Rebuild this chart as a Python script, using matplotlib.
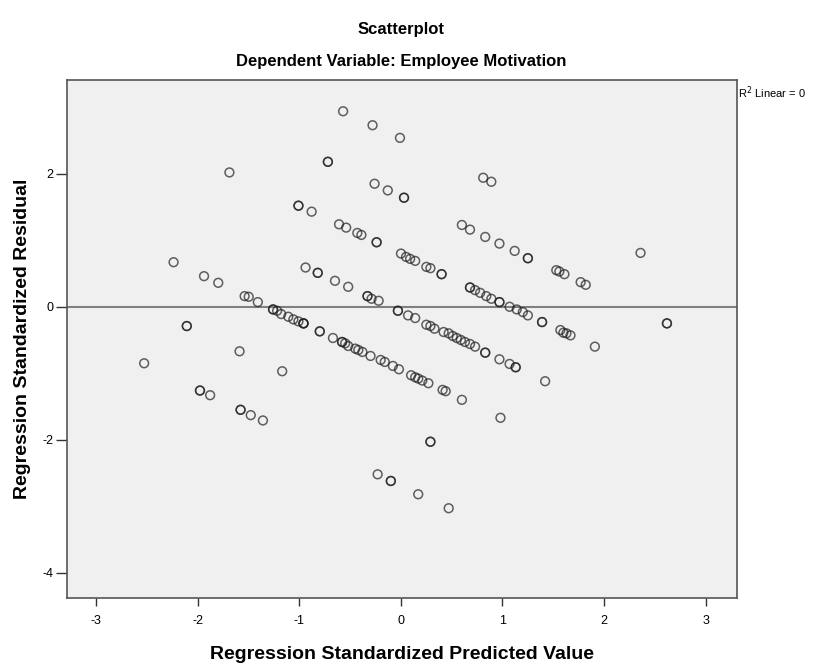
import matplotlib
matplotlib.use("Agg")
import matplotlib.pyplot as plt

plt.rcParams['font.family'] = ['Liberation Sans', 'DejaVu Sans']
plt.rcParams['axes.unicode_minus'] = False

# standardized predicted values (x) and standardized residuals (y)
pred = [-1.69, -1.01, -1.01, -0.88, -2.24, -1.94, -1.80, -1.54, -1.50, -1.41,
        -1.26, -1.26, -1.22, -1.18, -1.11, -1.06, -1.01, -0.96, -0.96, -0.96,
        -0.57, -0.28, -0.01, -0.72, -0.72, -0.26, -0.13, 0.03, 0.03, 0.81, 0.89,
        -0.61, -0.54, -0.43, -0.39, -0.24, -0.24,
        0.00, 0.05, 0.09, 0.14, 0.25, 0.29, 0.40, 0.40,
        0.60, 0.68, 0.83, 0.97, 1.12, 1.25, 1.25, 1.53, 1.56, 1.61, 1.77, 1.82, 2.36,
        -0.94, -0.82, -0.82, -0.65, -0.52, -0.33, -0.33, -0.29, -0.22,
        0.68, 0.68, 0.73, 0.78, 0.84, 0.89, 0.97, 0.97, 1.07, 1.14, 1.20, 1.25,
        1.39, 1.39, 1.57, 1.60, 1.63, 1.67, 1.91, 2.62, 2.62,
        -0.03, -0.03, 0.07, 0.14, 0.25, 0.29, 0.33, 0.42, 0.47, 0.51, 0.55,
        0.59, 0.63, 0.68, 0.73, 0.83, 0.83, 0.97, 1.07, 1.13, 1.13, 1.42,
        -2.11, -2.11, -1.59, -2.53, -1.17, -1.98, -1.98, -1.88, -1.58, -1.58,
        -1.48, -1.36,
        -0.80, -0.80, -0.67, -0.58, -0.58, -0.55, -0.52, -0.45, -0.42, -0.38,
        -0.30, -0.20, -0.16, -0.08, -0.02, 0.10, 0.14, 0.17, 0.21, 0.27,
        0.41, 0.44, 0.60, 0.98,
        0.29, 0.29, -0.23, -0.10, -0.10, 0.17, 0.47]
resid = [2.02, 1.52, 1.52, 1.43, 0.67, 0.46, 0.36, 0.16, 0.15, 0.07,
         -0.04, -0.04, -0.06, -0.11, -0.15, -0.19, -0.22, -0.25, -0.25, -0.25,
         2.94, 2.73, 2.54, 2.18, 2.18, 1.85, 1.75, 1.64, 1.64, 1.94, 1.88,
         1.24, 1.19, 1.11, 1.08, 0.97, 0.97,
         0.80, 0.75, 0.72, 0.69, 0.60, 0.58, 0.49, 0.49,
         1.23, 1.16, 1.05, 0.95, 0.84, 0.73, 0.73, 0.55, 0.53, 0.49, 0.37, 0.33, 0.81,
         0.59, 0.51, 0.51, 0.39, 0.30, 0.16, 0.16, 0.12, 0.09,
         0.29, 0.29, 0.25, 0.21, 0.16, 0.12, 0.07, 0.07, 0.00, -0.04, -0.08, -0.13,
         -0.23, -0.23, -0.35, -0.39, -0.40, -0.43, -0.60, -0.25, -0.25,
         -0.06, -0.06, -0.13, -0.17, -0.27, -0.29, -0.33, -0.38, -0.40, -0.44, -0.47,
         -0.50, -0.53, -0.56, -0.60, -0.69, -0.69, -0.79, -0.86, -0.91, -0.91, -1.12,
         -0.29, -0.29, -0.67, -0.85, -0.97, -1.26, -1.26, -1.33, -1.55, -1.55,
         -1.63, -1.71,
         -0.37, -0.37, -0.47, -0.53, -0.53, -0.55, -0.59, -0.63, -0.65, -0.68,
         -0.74, -0.80, -0.83, -0.89, -0.94, -1.03, -1.06, -1.08, -1.11, -1.15,
         -1.25, -1.27, -1.40, -1.67,
         -2.03, -2.03, -2.52, -2.62, -2.62, -2.82, -3.03]

fig = plt.figure(figsize=(8.24, 6.64), dpi=100)
ax = fig.add_axes([0.0813, 0.0994, 0.8131, 0.7801])
ax.set_facecolor('#f0f0f0')

ax.axhline(0, color='#808080', linewidth=1.5, zorder=1)
ax.scatter(pred, resid, s=40, facecolors='none', edgecolors='#202020',
           linewidths=1.1, alpha=0.7, zorder=2)

ax.set_xlim(-3.29, 3.31)
ax.set_ylim(-4.38, 3.41)
ax.set_xticks([-3, -2, -1, 0, 1, 2, 3])
ax.set_yticks([-4, -2, 0, 2])
ax.tick_params(direction='out', width=1, colors='#333333',
               labelsize=9, labelcolor='black')
ax.tick_params(axis='x', length=6, pad=6)
ax.tick_params(axis='y', length=8, pad=2)
for s in ax.spines.values():
    s.set_color('#555555')
    s.set_linewidth(1.2)

ax.set_xlabel("Regression Standardized Predicted Value", fontsize=14,
              fontweight='bold', labelpad=14)
ax.set_ylabel("Regression Standardized Residual", fontsize=14,
              fontweight='bold', labelpad=8)

fig.text(0.4867, 0.955, "Scatterplot", ha='center', va='center',
         fontsize=12, fontweight='bold')
fig.text(0.4867, 0.907, "Dependent Variable: Employee Motivation",
         ha='center', va='center', fontsize=12, fontweight='bold')
fig.text(0.8956, 0.86, "R$^2$ Linear = 0", ha='left', va='center', fontsize=8)

plt.savefig("out.png", dpi=100)
